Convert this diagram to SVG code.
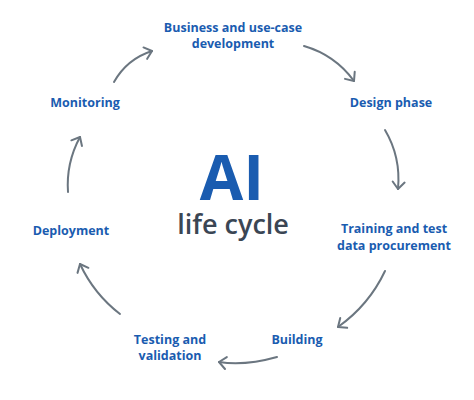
<svg xmlns="http://www.w3.org/2000/svg" width="474" height="400" viewBox="0 0 474 400">
<style>
.lbl{font-family:"Open Sans","Noto Sans","Liberation Sans",sans-serif;font-weight:700;font-size:12.5px;fill:#1a5cb0;text-anchor:middle}
.arr{fill:none;stroke:#6b7680;stroke-width:2;stroke-linecap:round;marker-end:url(#ah)}
</style>
<defs>
<marker id="ah" markerUnits="userSpaceOnUse" viewBox="-10 -8 12 16" refX="0" refY="0" markerWidth="12" markerHeight="16" orient="auto" overflow="visible">
<path d="M-7,-6 L0,0 L-7,6" fill="none" stroke="#6b7680" stroke-width="2" stroke-linecap="round" stroke-linejoin="round"/>
</marker>
</defs>
<rect width="474" height="400" fill="#ffffff"/>
<g id="center">
<text x="232" y="200" font-family="'Open Sans','Noto Sans','Liberation Sans',sans-serif" font-weight="700" font-size="63" fill="#1a5cb0" text-anchor="middle">AI</text>
<text x="233" y="234" font-family="'Open Sans','Noto Sans','Liberation Sans',sans-serif" font-weight="600" font-size="27" fill="#3b4654" text-anchor="middle">life cycle</text>
</g>
<g id="business"><text class="lbl" x="233" y="32">Business and use-case</text><text class="lbl" x="233" y="48">development</text></g>
<g id="design"><text class="lbl" x="391" y="107">Design phase</text></g>
<g id="training"><text class="lbl" x="394" y="233">Training and test</text><text class="lbl" x="394" y="250">data procurement</text></g>
<g id="building"><text class="lbl" x="297" y="344">Building</text></g>
<g id="testing"><text class="lbl" x="170" y="344">Testing and</text><text class="lbl" x="170" y="360">validation</text></g>
<g id="deployment"><text class="lbl" x="71" y="235">Deployment</text></g>
<g id="monitoring"><text class="lbl" x="85" y="107">Monitoring</text></g>
<g id="connectors">
<path class="arr" d="M114,82 Q127,59 152,51"/>
<path class="arr" d="M304,46 Q335,55 354,81"/>
<path class="arr" d="M385,130 Q401,157 398,189"/>
<path class="arr" d="M385,271 Q369,305 338,327"/>
<path class="arr" d="M277,357 Q245,366 219,362"/>
<path class="arr" d="M120,314 Q94,294 80,264"/>
<path class="arr" d="M68,192 Q66,163 80,137"/>
</g>
</svg>
